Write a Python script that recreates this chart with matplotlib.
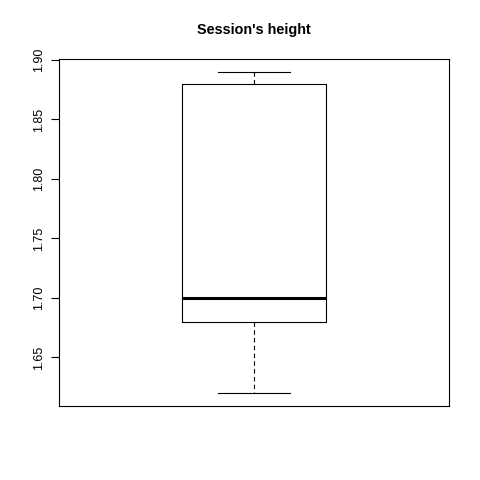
import matplotlib
matplotlib.use("Agg")
import matplotlib.pyplot as plt

# Five-number summary
whisker_low = 1.62
q1 = 1.68
median = 1.70
q3 = 1.88
whisker_high = 1.89
yticks = [1.65, 1.70, 1.75, 1.80, 1.85, 1.90]
title = "Session's height"

plt.rcParams['font.family'] = ['Liberation Sans', 'DejaVu Sans']

fig = plt.figure(figsize=(4.8, 4.8), dpi=100)
ax = fig.add_axes([59/480, 74/480, 390/480, 347/480])

stats = [dict(whislo=whisker_low, q1=q1, med=median, q3=q3, whishi=whisker_high, fliers=[])]
ax.bxp(stats, positions=[1], widths=0.4, showfliers=False,
       boxprops=dict(color='black', linewidth=0.8),
       medianprops=dict(color='black', linewidth=2.2, solid_capstyle='butt'),
       whiskerprops=dict(color='black', linewidth=0.8, linestyle=(0, (4, 3))),
       capprops=dict(color='black', linewidth=0.8),
       capwidths=0.2)

rng = whisker_high - whisker_low
ax.set_ylim(whisker_low - 0.04 * rng, whisker_high + 0.04 * rng)
ax.set_xlim(0.46, 1.54)
ax.set_xticks([])
ax.set_yticks(yticks)
ax.set_yticklabels([f"{v:.2f}" for v in yticks], rotation=90, va='center', fontsize=9)
ax.tick_params(axis='y', length=6, width=0.8, pad=4)
for s in ax.spines.values():
    s.set_linewidth(0.8)

fig.text(254/480, 1 - 30/480, title, ha='center', va='center', fontsize=10.4, fontweight='bold')

fig.savefig("out.png", dpi=100)
